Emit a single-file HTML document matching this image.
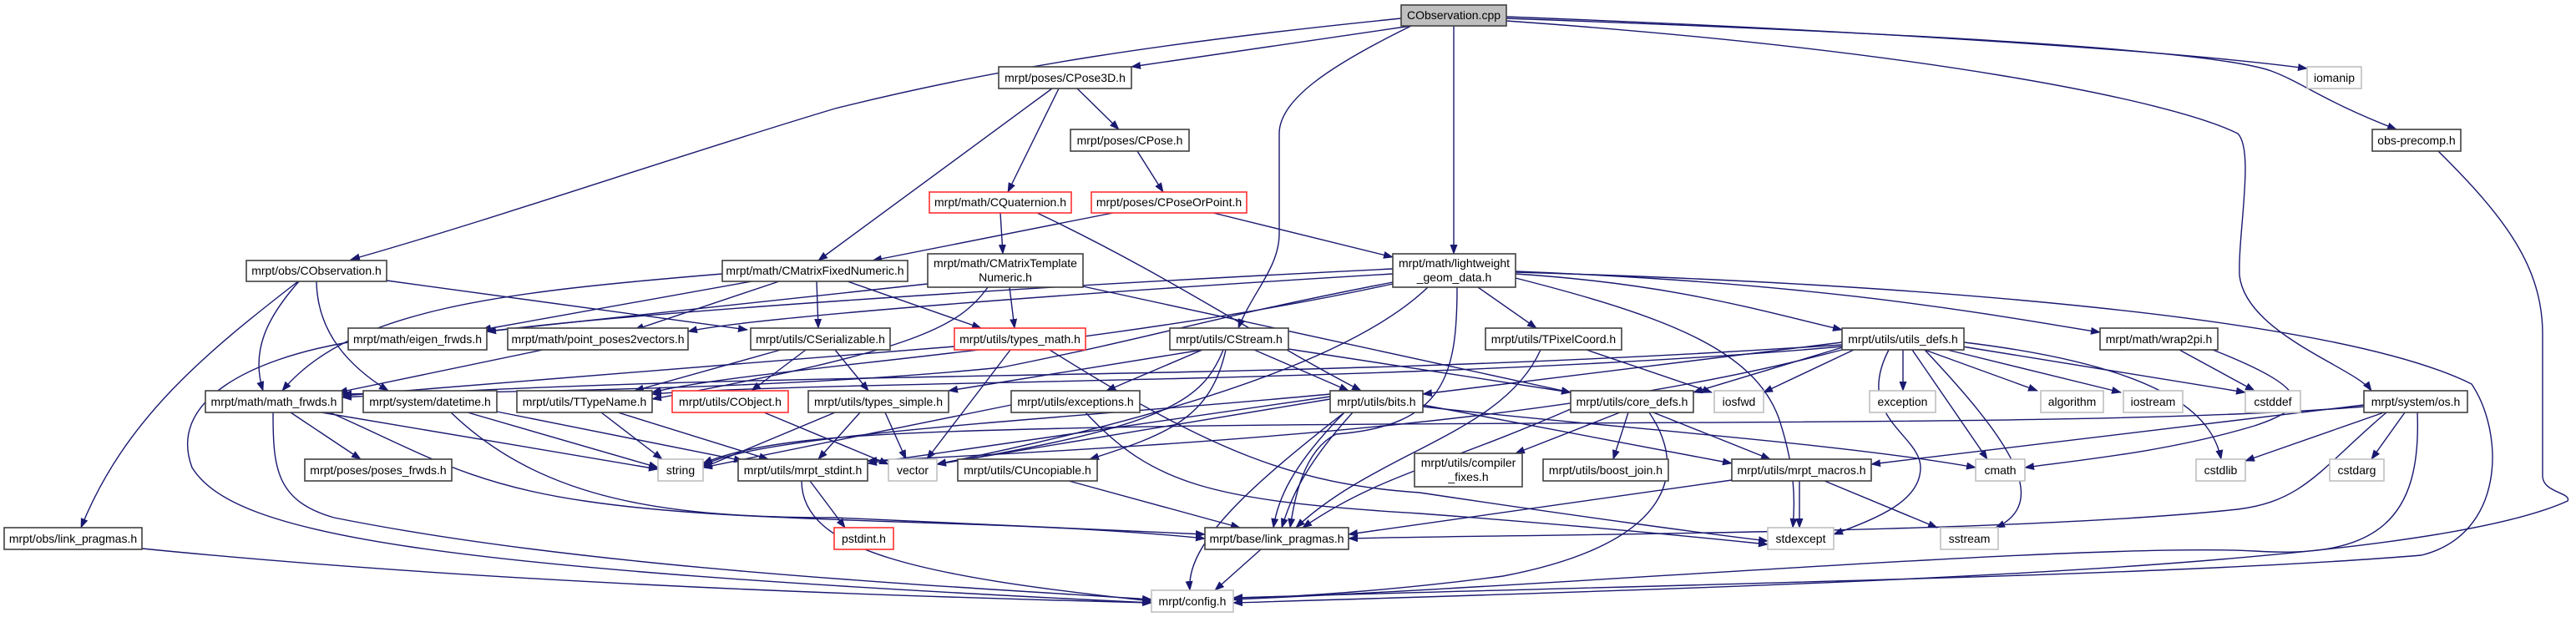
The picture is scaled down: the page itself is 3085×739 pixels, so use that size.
<!DOCTYPE html>
<html><head><meta charset="utf-8"><style>
html,body{margin:0;padding:0;background:#fff;}
svg{display:block;}
text{font-family:"Liberation Sans",sans-serif;font-size:14px;fill:#000;text-anchor:middle;}
.n{fill:#fff;stroke:#404040;stroke-width:1.6;}
.g{fill:#fff;stroke:#bfbfbf;stroke-width:1.6;}
.r{fill:#fff;stroke:#ff3030;stroke-width:1.6;}
.e path{fill:none;stroke:#191970;stroke-width:1.4;}
</style></head><body>
<svg width="3085" height="739" viewBox="0 0 3085 739" xmlns="http://www.w3.org/2000/svg">
<defs><marker id="a" markerUnits="userSpaceOnUse" markerWidth="12" markerHeight="10" refX="11" refY="4.5" orient="auto"><path d="M0,0 L12,4.5 L0,9 z" fill="#191970"/></marker></defs>
<g class="e" marker-end="url(#a)">
<path marker-end="url(#a)" d="M1678,22 C1400,50 1200,80 1000,130 C800,190 600,260 420,311"/>
<path marker-end="url(#a)" d="M1690,31 L1355,80"/>
<path marker-end="url(#a)" d="M1690,31 C1590,80 1532,120 1532,160 L1532,280 C1532,320 1500,350 1483,393"/>
<path marker-end="url(#a)" d="M1741,31 L1741,304"/>
<path marker-end="url(#a)" d="M1804,20 C2200,35 2600,60 2763,82"/>
<path marker-end="url(#a)" d="M1804,22 C2300,40 2650,60 2720,85 C2760,100 2780,120 2870,155"/>
<path marker-end="url(#a)" d="M1804,25 C2300,60 2600,120 2680,160 C2700,180 2680,280 2682,330 C2690,400 2820,440 2840,468"/>
<path marker-end="url(#a)" d="M2920,181 C3000,260 3045,320 3045,400 L3045,570 C3045,590 3080,590 3075,600 C2900,680 2200,700 1477,722"/>
<path marker-end="url(#a)" d="M2895,494 C2900,620 2850,670 2700,660 C2500,650 1900,700 1477,718"/>
<path marker-end="url(#a)" d="M2858,494 C2780,560 2760,600 2680,610 C2400,640 1800,640 1615,645"/>
<path marker-end="url(#a)" d="M2831,485 L2241,556"/>
<path marker-end="url(#a)" d="M2855,494 L2689,552"/>
<path marker-end="url(#a)" d="M2880,494 L2840,550"/>
<path marker-end="url(#a)" d="M2831,487 C2500,515 1700,500 1200,515 C1000,520 900,530 842,555"/>
<path marker-end="url(#a)" d="M1260,106 L980,312"/>
<path marker-end="url(#a)" d="M1268,106 L1207,230"/>
<path marker-end="url(#a)" d="M1290,106 L1340,155"/>
<path marker-end="url(#a)" d="M1362,181 L1393,230"/>
<path marker-end="url(#a)" d="M1198,255 L1201,304"/>
<path marker-end="url(#a)" d="M1242,255 C1400,330 1500,400 1630,468"/>
<path marker-end="url(#a)" d="M1333,255 L1045,312"/>
<path marker-end="url(#a)" d="M1453,255 L1668,308"/>
<path marker-end="url(#a)" d="M463,336 L895,395"/>
<path marker-end="url(#a)" d="M358,337 C320,380 300,420 315,468"/>
<path marker-end="url(#a)" d="M865,328 C600,350 420,370 338,468"/>
<path marker-end="url(#a)" d="M379,337 C380,400 420,440 465,468"/>
<path marker-end="url(#a)" d="M357,337 C250,420 150,500 97,632"/>
<path marker-end="url(#a)" d="M900,337 L577,395"/>
<path marker-end="url(#a)" d="M933,337 L760,395"/>
<path marker-end="url(#a)" d="M978,337 L980,393"/>
<path marker-end="url(#a)" d="M1015,337 L1175,393"/>
<path marker-end="url(#a)" d="M1297,343 L1881,470"/>
<path marker-end="url(#a)" d="M1209,344 L1215,393"/>
<path marker-end="url(#a)" d="M1111,340 L583,397"/>
<path marker-end="url(#a)" d="M1183,344 C1150,390 1100,420 781,478"/>
<path marker-end="url(#a)" d="M1668,322 C1300,340 800,370 583,397"/>
<path marker-end="url(#a)" d="M1668,328 C1300,350 900,380 824,397"/>
<path marker-end="url(#a)" d="M1668,338 C1450,380 1400,400 1200,440 C900,470 500,470 410,472"/>
<path marker-end="url(#a)" d="M1668,340 C1300,420 900,440 781,470"/>
<path marker-end="url(#a)" d="M1710,344 C1600,450 1300,520 1122,556"/>
<path marker-end="url(#a)" d="M1745,344 C1745,450 1730,510 1600,520 C1560,540 1550,600 1545,632"/>
<path marker-end="url(#a)" d="M1770,344 L1840,393"/>
<path marker-end="url(#a)" d="M1815,328 C2000,340 2100,370 2206,395"/>
<path marker-end="url(#a)" d="M1815,325 C2200,340 2400,380 2515,398"/>
<path marker-end="url(#a)" d="M1815,333 C2000,380 2100,420 2130,500 C2150,560 2150,600 2147,632"/>
<path marker-end="url(#a)" d="M1815,326 C2300,340 2800,380 2960,460 C3000,520 3000,640 2900,665 C2600,690 2000,700 1477,716"/>
<path marker-end="url(#a)" d="M935,419 L760,468"/>
<path marker-end="url(#a)" d="M965,419 L900,468"/>
<path marker-end="url(#a)" d="M1000,419 L1040,468"/>
<path marker-end="url(#a)" d="M1210,419 L1110,550"/>
<path marker-end="url(#a)" d="M1257,419 C1450,540 1550,580 1700,590 C1900,620 2050,640 2117,648"/>
<path marker-end="url(#a)" d="M1143,415 L410,474"/>
<path marker-end="url(#a)" d="M1440,419 L1136,468"/>
<path marker-end="url(#a)" d="M1440,419 L1325,468"/>
<path marker-end="url(#a)" d="M1502,419 L1615,468"/>
<path marker-end="url(#a)" d="M1543,418 L1881,470"/>
<path marker-end="url(#a)" d="M1465,419 C1440,480 1400,510 1122,556"/>
<path marker-end="url(#a)" d="M1468,419 C1450,500 1400,520 1305,550"/>
<path marker-end="url(#a)" d="M1845,419 C1800,520 1650,540 1552,632"/>
<path marker-end="url(#a)" d="M1900,419 L2050,470"/>
<path marker-end="url(#a)" d="M2206,410 L1704,472"/>
<path marker-end="url(#a)" d="M2210,415 L2028,470"/>
<path marker-end="url(#a)" d="M2206,413 C1500,460 1000,440 410,476"/>
<path marker-end="url(#a)" d="M2206,415 C1700,460 1000,455 781,472"/>
<path marker-end="url(#a)" d="M2220,419 L2112,470"/>
<path marker-end="url(#a)" d="M2279,419 L2279,468"/>
<path marker-end="url(#a)" d="M2305,419 L2440,468"/>
<path marker-end="url(#a)" d="M2332,419 L2540,470"/>
<path marker-end="url(#a)" d="M2350,415 L2689,470"/>
<path marker-end="url(#a)" d="M2290,419 L2380,550"/>
<path marker-end="url(#a)" d="M2305,419 C2400,520 2460,600 2390,632"/>
<path marker-end="url(#a)" d="M2262,419 C2220,500 2300,520 2300,560 C2300,600 2250,620 2196,640"/>
<path marker-end="url(#a)" d="M2352,410 C2600,440 2650,500 2660,550"/>
<path marker-end="url(#a)" d="M2206,419 C1900,500 1500,530 1039,552"/>
<path marker-end="url(#a)" d="M2610,419 L2700,468"/>
<path marker-end="url(#a)" d="M2650,419 C2780,470 2760,490 2700,510 C2600,540 2500,550 2425,560"/>
<path marker-end="url(#a)" d="M1704,487 C1900,510 2200,530 2366,560"/>
<path marker-end="url(#a)" d="M1704,485 L2074,555"/>
<path marker-end="url(#a)" d="M1980,494 L2120,550"/>
<path marker-end="url(#a)" d="M1940,494 L1815,543"/>
<path marker-end="url(#a)" d="M1950,494 L1932,550"/>
<path marker-end="url(#a)" d="M1881,490 C1720,560 1650,570 1560,632"/>
<path marker-end="url(#a)" d="M1975,494 C2020,560 2010,650 1800,690 C1650,710 1530,715 1477,718"/>
<path marker-end="url(#a)" d="M1593,475 L1039,555"/>
<path marker-end="url(#a)" d="M1593,478 L1122,556"/>
<path marker-end="url(#a)" d="M1593,472 C1300,500 900,520 842,558"/>
<path marker-end="url(#a)" d="M1610,494 C1545,560 1530,600 1525,632"/>
<path marker-end="url(#a)" d="M1620,494 C1560,560 1545,600 1535,632"/>
<path marker-end="url(#a)" d="M1610,494 C1500,580 1420,650 1425,707"/>
<path marker-end="url(#a)" d="M1211,485 L842,560"/>
<path marker-end="url(#a)" d="M1300,494 C1380,580 1450,600 1700,615 C1900,630 2050,645 2117,652"/>
<path marker-end="url(#a)" d="M1000,494 L842,560"/>
<path marker-end="url(#a)" d="M1060,494 L1085,550"/>
<path marker-end="url(#a)" d="M1030,494 L980,550"/>
<path marker-end="url(#a)" d="M915,494 L1064,556"/>
<path marker-end="url(#a)" d="M720,494 L793,550"/>
<path marker-end="url(#a)" d="M740,494 L920,550"/>
<path marker-end="url(#a)" d="M560,494 L788,560"/>
<path marker-end="url(#a)" d="M590,492 L890,552"/>
<path marker-end="url(#a)" d="M540,494 C650,600 800,620 1000,620 L1443,640"/>
<path marker-end="url(#a)" d="M348,494 L432,550"/>
<path marker-end="url(#a)" d="M385,494 L788,562"/>
<path marker-end="url(#a)" d="M395,494 C500,540 560,580 700,600 C900,630 1200,620 1443,645"/>
<path marker-end="url(#a)" d="M327,494 C327,560 330,600 400,620 C700,680 1100,700 1379,718"/>
<path marker-end="url(#a)" d="M417,410 C300,430 200,480 230,560 C280,640 500,680 1379,722"/>
<path marker-end="url(#a)" d="M650,419 L405,470"/>
<path marker-end="url(#a)" d="M970,576 L1012,632"/>
<path marker-end="url(#a)" d="M960,576 C960,660 1100,690 1379,720"/>
<path marker-end="url(#a)" d="M170,657 C600,700 1100,715 1379,722"/>
<path marker-end="url(#a)" d="M1280,576 L1485,632"/>
<path marker-end="url(#a)" d="M2155,576 L2155,632"/>
<path marker-end="url(#a)" d="M2185,576 L2320,632"/>
<path marker-end="url(#a)" d="M2074,575 L1615,640"/>
<path marker-end="url(#a)" d="M1510,658 L1455,707"/>
</g>
<g>
<rect x="1678" y="6" width="126" height="25" fill="#bfbfbf" stroke="#404040" stroke-width="1.6"/><text x="1741" y="23">CObservation.cpp</text>
<rect class="n" x="1196" y="80" width="159" height="26"/><text x="1275.5" y="98">mrpt/poses/CPose3D.h</text>
<rect class="g" x="2763" y="80" width="65" height="26"/><text x="2795.5" y="98">iomanip</text>
<rect class="n" x="1282" y="155" width="142" height="26"/><text x="1353" y="173">mrpt/poses/CPose.h</text>
<rect class="n" x="2841" y="155" width="106" height="26"/><text x="2894" y="173">obs-precomp.h</text>
<rect class="r" x="1113" y="230" width="170" height="25"/><text x="1198" y="247">mrpt/math/CQuaternion.h</text>
<rect class="r" x="1307" y="230" width="186" height="25"/><text x="1400" y="247">mrpt/poses/CPoseOrPoint.h</text>
<rect class="n" x="295" y="312" width="168" height="25"/><text x="379" y="329">mrpt/obs/CObservation.h</text>
<rect class="n" x="865" y="312" width="222" height="25"/><text x="976" y="329">mrpt/math/CMatrixFixedNumeric.h</text>
<rect class="n" x="1111" y="304" width="186" height="40"/><text x="1204" y="320">mrpt/math/CMatrixTemplate</text><text x="1204" y="337">Numeric.h</text>
<rect class="n" x="1668" y="304" width="147" height="40"/><text x="1741.5" y="320">mrpt/math/lightweight</text><text x="1741.5" y="337">_geom_data.h</text>
<rect class="n" x="417" y="393" width="166" height="26"/><text x="500" y="411">mrpt/math/eigen_frwds.h</text>
<rect class="n" x="608" y="393" width="216" height="26"/><text x="716" y="411">mrpt/math/point_poses2vectors.h</text>
<rect class="n" x="899" y="393" width="167" height="26"/><text x="982.5" y="411">mrpt/utils/CSerializable.h</text>
<rect class="r" x="1143" y="393" width="157" height="26"/><text x="1221.5" y="411">mrpt/utils/types_math.h</text>
<rect class="n" x="1401" y="393" width="142" height="26"/><text x="1472" y="411">mrpt/utils/CStream.h</text>
<rect class="n" x="1779" y="393" width="163" height="26"/><text x="1860.5" y="411">mrpt/utils/TPixelCoord.h</text>
<rect class="n" x="2206" y="393" width="146" height="26"/><text x="2279" y="411">mrpt/utils/utils_defs.h</text>
<rect class="n" x="2515" y="393" width="141" height="26"/><text x="2585.5" y="411">mrpt/math/wrap2pi.h</text>
<rect class="n" x="246" y="468" width="164" height="26"/><text x="328" y="486">mrpt/math/math_frwds.h</text>
<rect class="n" x="435" y="468" width="160" height="26"/><text x="515" y="486">mrpt/system/datetime.h</text>
<rect class="n" x="619" y="468" width="162" height="26"/><text x="700" y="486">mrpt/utils/TTypeName.h</text>
<rect class="r" x="805" y="468" width="139" height="26"/><text x="874.5" y="486">mrpt/utils/CObject.h</text>
<rect class="n" x="968" y="468" width="168" height="26"/><text x="1052" y="486">mrpt/utils/types_simple.h</text>
<rect class="n" x="1211" y="468" width="154" height="26"/><text x="1288" y="486">mrpt/utils/exceptions.h</text>
<rect class="n" x="1593" y="468" width="111" height="26"/><text x="1648.5" y="486">mrpt/utils/bits.h</text>
<rect class="n" x="1881" y="468" width="147" height="26"/><text x="1954.5" y="486">mrpt/utils/core_defs.h</text>
<rect class="g" x="2053" y="468" width="59" height="26"/><text x="2082.5" y="486">iosfwd</text>
<rect class="g" x="2239" y="468" width="79" height="26"/><text x="2278.5" y="486">exception</text>
<rect class="g" x="2444" y="468" width="75" height="26"/><text x="2481.5" y="486">algorithm</text>
<rect class="g" x="2543" y="468" width="71" height="26"/><text x="2578.5" y="486">iostream</text>
<rect class="g" x="2689" y="468" width="66" height="26"/><text x="2722" y="486">cstddef</text>
<rect class="n" x="2831" y="468" width="124" height="26"/><text x="2893" y="486">mrpt/system/os.h</text>
<rect class="n" x="365" y="550" width="176" height="26"/><text x="453" y="568">mrpt/poses/poses_frwds.h</text>
<rect class="g" x="788" y="550" width="54" height="26"/><text x="815" y="568">string</text>
<rect class="n" x="884" y="550" width="155" height="26"/><text x="961.5" y="568">mrpt/utils/mrpt_stdint.h</text>
<rect class="g" x="1064" y="550" width="58" height="26"/><text x="1093" y="568">vector</text>
<rect class="n" x="1147" y="550" width="167" height="26"/><text x="1230.5" y="568">mrpt/utils/CUncopiable.h</text>
<rect class="n" x="1694" y="543" width="129" height="40"/><text x="1758.5" y="559">mrpt/utils/compiler</text><text x="1758.5" y="576">_fixes.h</text>
<rect class="n" x="1848" y="550" width="150" height="26"/><text x="1923" y="568">mrpt/utils/boost_join.h</text>
<rect class="n" x="2074" y="550" width="167" height="26"/><text x="2157.5" y="568">mrpt/utils/mrpt_macros.h</text>
<rect class="g" x="2366" y="550" width="59" height="26"/><text x="2395.5" y="568">cmath</text>
<rect class="g" x="2630" y="550" width="59" height="26"/><text x="2659.5" y="568">cstdlib</text>
<rect class="g" x="2790" y="550" width="65" height="26"/><text x="2822.5" y="568">cstdarg</text>
<rect class="n" x="5" y="632" width="165" height="26"/><text x="87.5" y="650">mrpt/obs/link_pragmas.h</text>
<rect class="r" x="999" y="632" width="71" height="26"/><text x="1034.5" y="650">pstdint.h</text>
<rect class="n" x="1443" y="632" width="172" height="26"/><text x="1529" y="650">mrpt/base/link_pragmas.h</text>
<rect class="g" x="2117" y="632" width="79" height="26"/><text x="2156.5" y="650">stdexcept</text>
<rect class="g" x="2324" y="632" width="69" height="26"/><text x="2358.5" y="650">sstream</text>
<rect class="g" x="1379" y="707" width="98" height="26"/><text x="1428" y="725">mrpt/config.h</text>
</g>
</svg>
</body></html>
